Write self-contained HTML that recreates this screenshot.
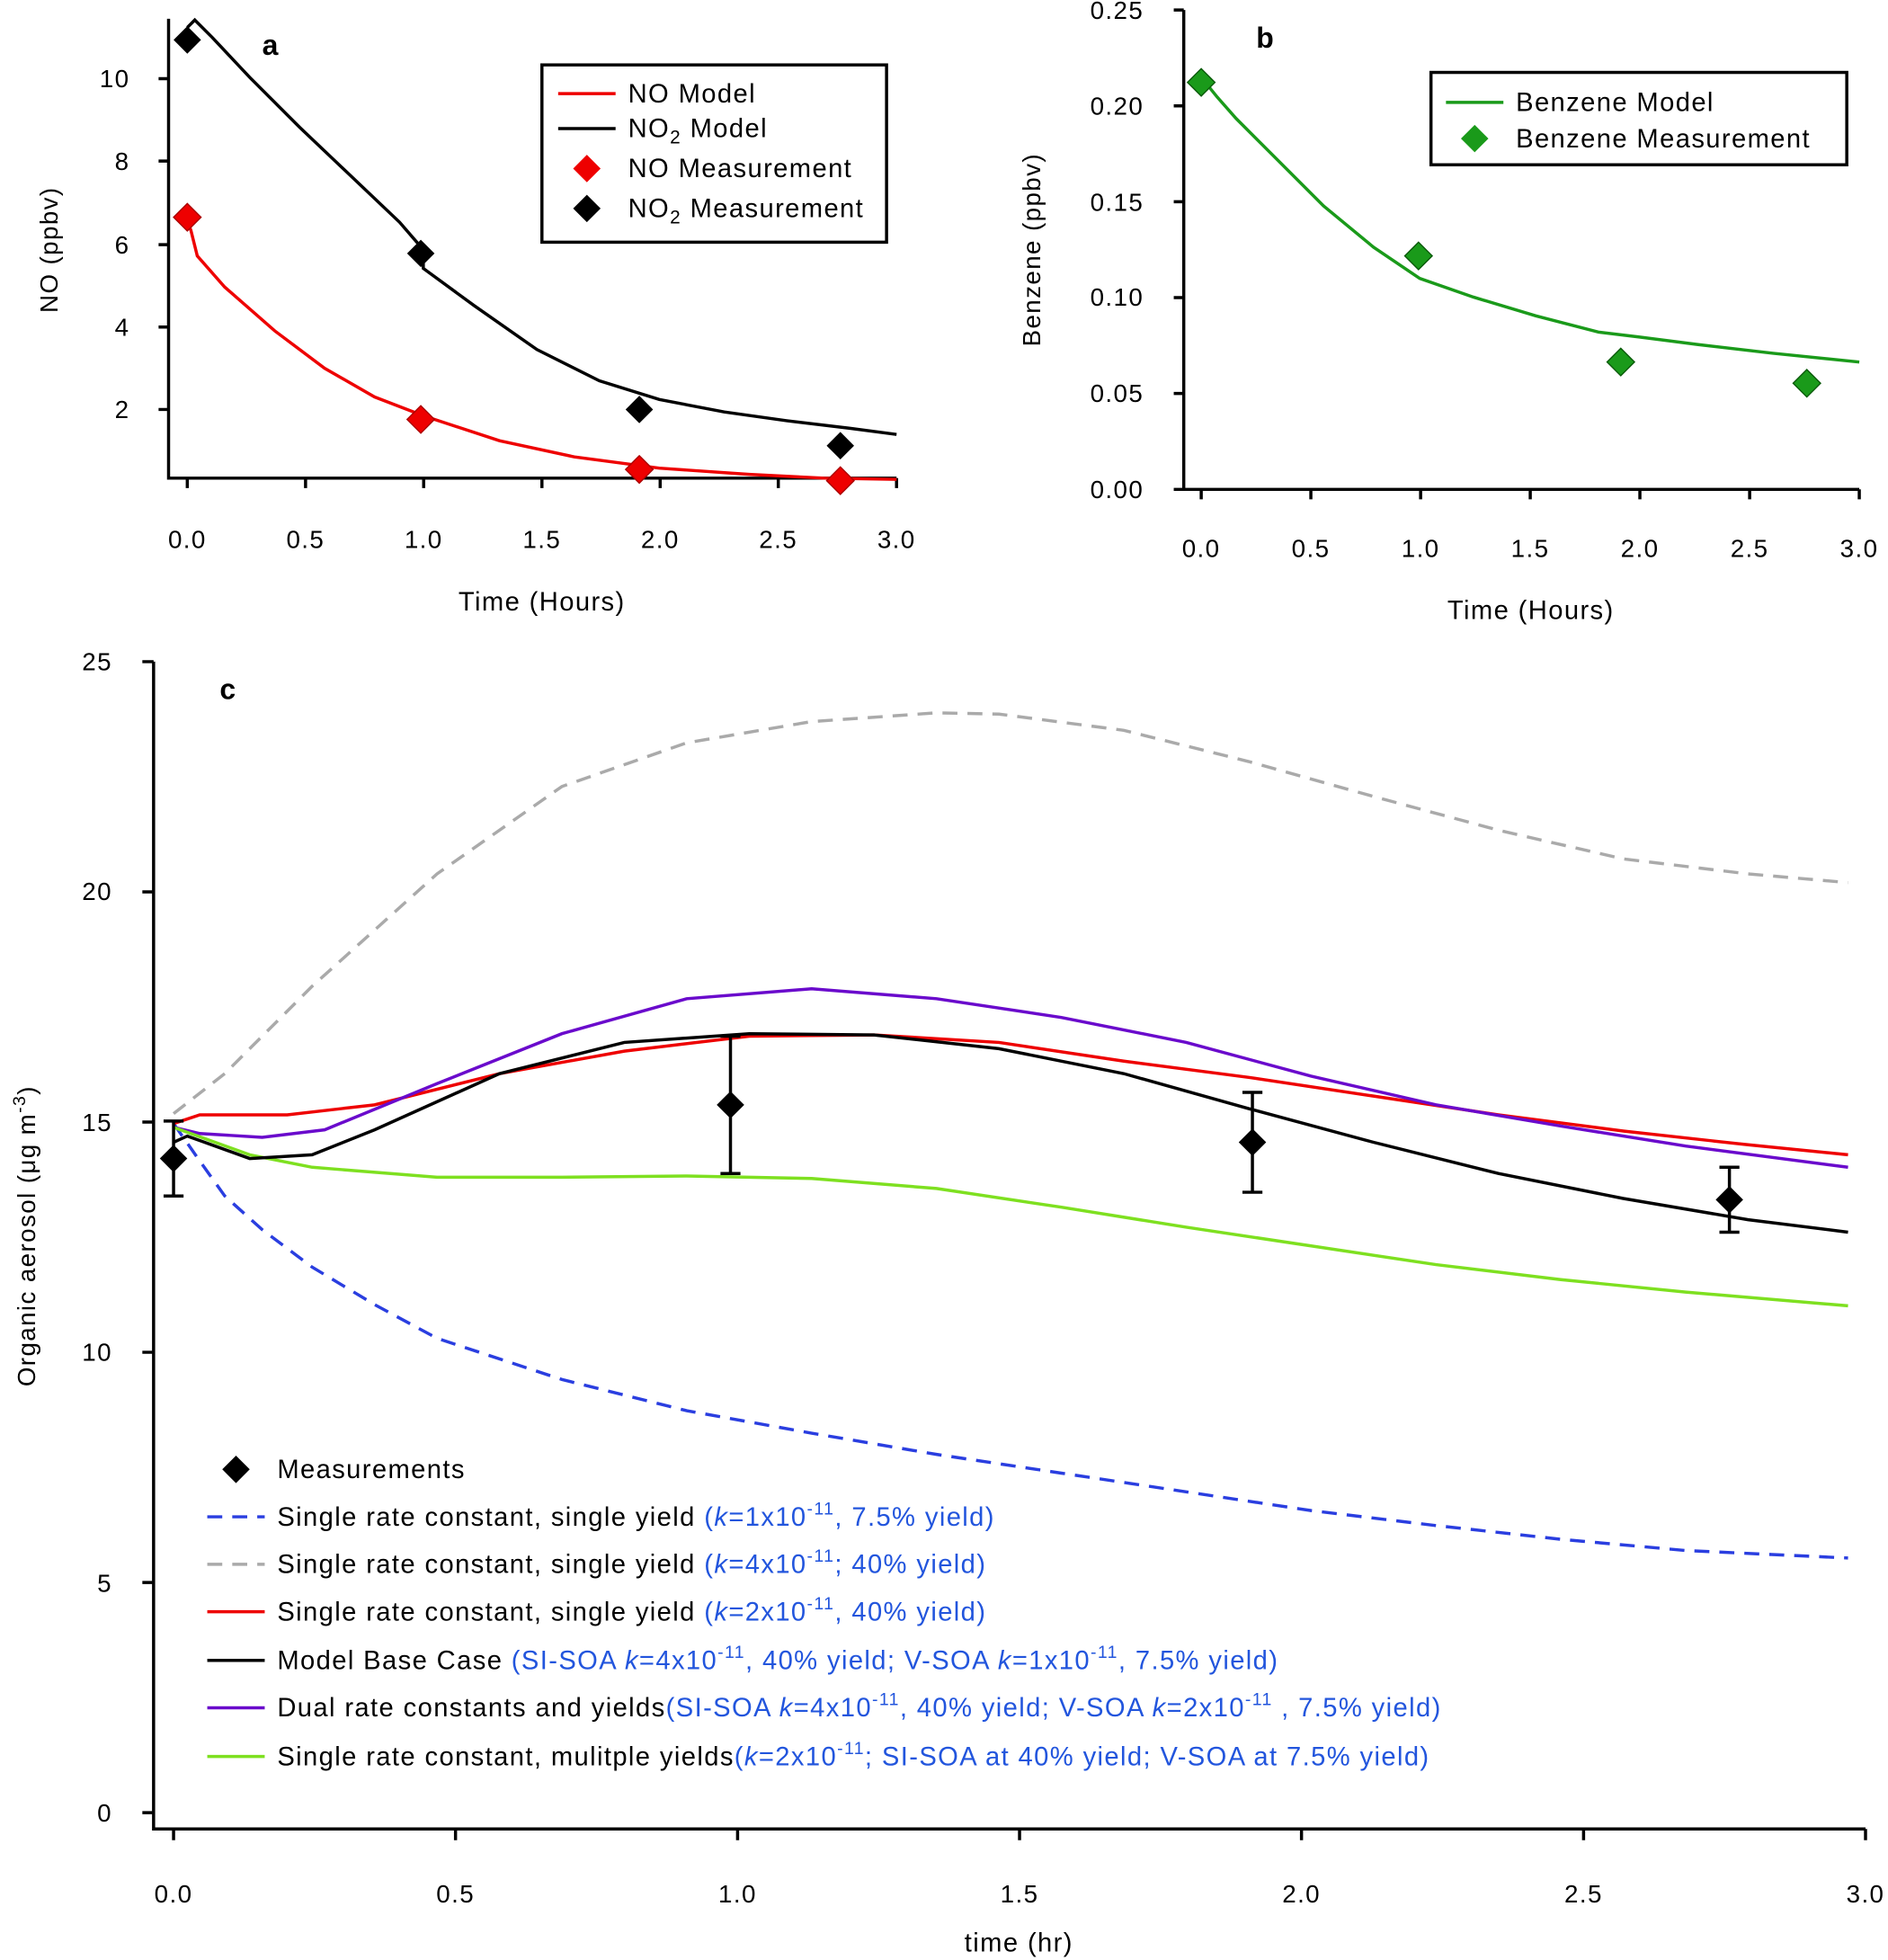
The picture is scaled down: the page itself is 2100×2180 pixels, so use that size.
<!DOCTYPE html>
<html><head><meta charset="utf-8"><style>html,body{margin:0;padding:0;background:#fff}svg{display:block}text{font-family:"Liberation Sans",sans-serif;letter-spacing:1px}</style></head><body>
<svg width="2100" height="2180" viewBox="0 0 1512 1570" preserveAspectRatio="none" xmlns="http://www.w3.org/2000/svg">
<defs><path id="dm" d="M0,-11 L11,0 L0,11 L-11,0Z"/></defs>
<!-- Panel a -->
<g stroke="#000" stroke-width="2.5" fill="none">
<path d="M135,15 V383 H718"/>
<path d="M135,63 h-8 M135,129 h-8 M135,196 h-8 M135,262 h-8 M135,328 h-8"/>
<path d="M150,383 v8 M244.7,383 v8 M339.3,383 v8 M434,383 v8 M528.7,383 v8 M623.3,383 v8 M718,383 v8"/>
</g>
<g font-size="20" text-anchor="end"><text x="104" y="70">10</text><text x="104" y="136">8</text><text x="104" y="203">6</text><text x="104" y="269">4</text><text x="104" y="335">2</text></g>
<g font-size="20" text-anchor="middle"><text x="150" y="439">0.0</text><text x="244.7" y="439">0.5</text><text x="339.3" y="439">1.0</text><text x="434" y="439">1.5</text><text x="528.7" y="439">2.0</text><text x="623.3" y="439">2.5</text><text x="718" y="439">3.0</text>
<text x="434" y="489" font-size="21">Time (Hours)</text></g>
<text transform="translate(46,200) rotate(-90)" font-size="20" text-anchor="middle">NO (ppbv)</text>
<text x="210" y="44" font-size="23" font-weight="bold">a</text>
<polyline fill="none" stroke="#000" stroke-width="2.5" points="150,22 156,16 170,30 200,62 240,102 280,140 320,178 339,200 339,215 380,245 430,280 480,305 528,320 580,330 630,337 680,343 718,348"/>
<polyline fill="none" stroke="#e00" stroke-width="2.5" points="150,176 153,185 158,205 180,230 220,265 260,295 300,318 339,333 400,353 460,366 528,375 600,380 660,383 718,384"/>
<g fill="#e00" stroke="#a00"><use href="#dm" x="150" y="174"/><use href="#dm" x="337" y="336"/><use href="#dm" x="512" y="376"/><use href="#dm" x="673" y="385"/></g>
<g fill="#000"><use href="#dm" x="150" y="32"/><use href="#dm" x="337" y="203"/><use href="#dm" x="512" y="328"/><use href="#dm" x="673" y="357"/></g>
<rect x="434" y="52" width="276" height="142" fill="#fff" stroke="#000" stroke-width="2.5"/>
<g stroke-width="2.5"><line x1="447" y1="75" x2="493" y2="75" stroke="#e00"/><line x1="447" y1="103" x2="493" y2="103" stroke="#000"/></g>
<use href="#dm" x="470" y="135" fill="#e00"/><use href="#dm" x="470" y="167" fill="#000"/>
<g font-size="21"><text x="503" y="82">NO Model</text><text x="503" y="110">NO<tspan font-size="15" dy="5">2</tspan><tspan dy="-5"> Model</tspan></text><text x="503" y="142">NO Measurement</text><text x="503" y="174">NO<tspan font-size="15" dy="5">2</tspan><tspan dy="-5"> Measurement</tspan></text></g>
<!-- Panel b -->
<g stroke="#000" stroke-width="2.5" fill="none">
<path d="M948,8 V392 H1489"/>
<path d="M948,8 h-8 M948,84.8 h-8 M948,161.6 h-8 M948,238.4 h-8 M948,315.2 h-8 M948,392 h-8"/>
<path d="M962,392 v8 M1049.8,392 v8 M1137.7,392 v8 M1225.5,392 v8 M1313.3,392 v8 M1401.2,392 v8 M1489,392 v8"/>
</g>
<g font-size="20" text-anchor="end"><text x="916" y="15">0.25</text><text x="916" y="92">0.20</text><text x="916" y="169">0.15</text><text x="916" y="245">0.10</text><text x="916" y="322">0.05</text><text x="916" y="399">0.00</text></g>
<g font-size="20" text-anchor="middle"><text x="962" y="446">0.0</text><text x="1049.8" y="446">0.5</text><text x="1137.7" y="446">1.0</text><text x="1225.5" y="446">1.5</text><text x="1313.3" y="446">2.0</text><text x="1401.2" y="446">2.5</text><text x="1489" y="446">3.0</text>
<text x="1226" y="496" font-size="21">Time (Hours)</text></g>
<text transform="translate(833,200) rotate(-90)" font-size="20" text-anchor="middle">Benzene (ppbv)</text>
<text x="1006" y="38" font-size="23" font-weight="bold">b</text>
<polyline fill="none" stroke="#1a9a1a" stroke-width="2.5" points="962,62 975,78 990,95 1020,125 1060,165 1100,198 1137,223 1180,238 1230,253 1280,266 1313,270 1360,276 1420,283 1489,290"/>
<g fill="#1a9a1a" stroke="#0a5a0a"><use href="#dm" x="962" y="66"/><use href="#dm" x="1136" y="205"/><use href="#dm" x="1298" y="290"/><use href="#dm" x="1447" y="307"/></g>
<rect x="1146" y="58" width="333" height="74" fill="#fff" stroke="#000" stroke-width="2.5"/>
<line x1="1158" y1="82" x2="1204" y2="82" stroke="#1a9a1a" stroke-width="2.5"/>
<use href="#dm" x="1181" y="111" fill="#1a9a1a"/>
<g font-size="21"><text x="1214" y="89">Benzene Model</text><text x="1214" y="118">Benzene Measurement</text></g>
<!-- Panel c -->
<g stroke="#000" stroke-width="2.5" fill="none">
<path d="M123,530 V1465 H1494"/>
<path d="M123,530 h-9 M123,714.4 h-9 M123,898.8 h-9 M123,1083.2 h-9 M123,1267.6 h-9 M123,1452 h-9"/>
<path d="M139,1465 v9 M364.8,1465 v9 M590.7,1465 v9 M816.5,1465 v9 M1042.3,1465 v9 M1268.2,1465 v9 M1494,1465 v9"/>
</g>
<g font-size="20" text-anchor="end"><text x="90" y="537">25</text><text x="90" y="721">20</text><text x="90" y="906">15</text><text x="90" y="1090">10</text><text x="90" y="1275">5</text><text x="90" y="1459">0</text></g>
<g font-size="20" text-anchor="middle"><text x="139" y="1524">0.0</text><text x="364.8" y="1524">0.5</text><text x="590.7" y="1524">1.0</text><text x="816.5" y="1524">1.5</text><text x="1042.3" y="1524">2.0</text><text x="1268.2" y="1524">2.5</text><text x="1494" y="1524">3.0</text>
<text x="816" y="1563" font-size="21">time (hr)</text></g>
<text transform="translate(28,990) rotate(-90)" font-size="20" text-anchor="middle">Organic aerosol (μg m<tspan font-size="14" dy="-8">-3</tspan><tspan dy="8">)</tspan></text>
<text x="176" y="560" font-size="23" font-weight="bold">c</text>
<g fill="none" stroke-width="2.5">
<polyline stroke="#aaa" stroke-dasharray="12,8" points="139,892 180,860 250,790 350,700 450,630 550,595 650,578 750,571 800,572 900,585 1000,610 1100,638 1200,665 1300,688 1400,700 1480,707"/>
<polyline stroke="#2a3ee0" stroke-dasharray="12,8" points="139,900 160,930 180,958 210,985 250,1015 300,1045 350,1072 450,1105 550,1130 650,1148 750,1165 850,1180 950,1195 1050,1210 1150,1222 1250,1233 1350,1242 1480,1248"/>
<polyline stroke="#e00" points="139,900 160,893 230,893 300,885 400,860 500,842 600,830 700,829 800,835 900,850 1000,863 1100,878 1200,893 1300,906 1400,917 1480,925"/>
<polyline stroke="#6a0acc" points="139,903 160,908 210,911 260,905 350,868 450,828 550,800 650,792 750,800 850,815 950,835 1050,862 1150,885 1250,902 1350,918 1480,935"/>
<polyline stroke="#7ee020" points="139,903 200,925 250,935 350,943 450,943 550,942 650,944 750,952 850,967 950,983 1050,998 1150,1013 1250,1025 1350,1035 1480,1046"/>
<polyline stroke="#000" points="139,915 150,910 200,928 250,925 300,905 400,860 500,835 600,828 700,829 800,840 900,860 1000,888 1100,915 1200,940 1300,960 1400,977 1480,987"/>
</g>
<g stroke="#000" stroke-width="2.5"><path d="M139,898 V958 M131,898 h16 M131,958 h16 M585,830 V940 M577,830 h16 M577,940 h16 M1003,875 V955 M995,875 h16 M995,955 h16 M1385,935 V987 M1377,935 h16 M1377,987 h16"/></g>
<g fill="#000"><use href="#dm" x="139" y="928"/><use href="#dm" x="585" y="885"/><use href="#dm" x="1003" y="915"/><use href="#dm" x="1385" y="961"/></g>
<use href="#dm" x="189" y="1177" fill="#000"/>
<g stroke-width="2.5"><line x1="166" y1="1215" x2="212" y2="1215" stroke="#2a3ee0" stroke-dasharray="12,8"/><line x1="166" y1="1253" x2="212" y2="1253" stroke="#aaa" stroke-dasharray="12,8"/><line x1="166" y1="1291" x2="212" y2="1291" stroke="#e00"/><line x1="166" y1="1330" x2="212" y2="1330" stroke="#000"/><line x1="166" y1="1368" x2="212" y2="1368" stroke="#6a0acc"/><line x1="166" y1="1407" x2="212" y2="1407" stroke="#7ee020"/></g>
<g font-size="21">
<text x="222" y="1184">Measurements</text>
<text x="222" y="1222">Single rate constant, single yield <tspan fill="#2255dd">(<tspan font-style="italic">k</tspan>=1x10<tspan font-size="14" dy="-9">-11</tspan><tspan dy="9">, 7.5% yield)</tspan></tspan></text>
<text x="222" y="1260">Single rate constant, single yield <tspan fill="#2255dd">(<tspan font-style="italic">k</tspan>=4x10<tspan font-size="14" dy="-9">-11</tspan><tspan dy="9">; 40% yield)</tspan></tspan></text>
<text x="222" y="1298">Single rate constant, single yield <tspan fill="#2255dd">(<tspan font-style="italic">k</tspan>=2x10<tspan font-size="14" dy="-9">-11</tspan><tspan dy="9">, 40% yield)</tspan></tspan></text>
<text x="222" y="1337"> Model Base Case <tspan fill="#2255dd">(SI-SOA <tspan font-style="italic">k</tspan>=4x10<tspan font-size="14" dy="-9">-11</tspan><tspan dy="9">, 40% yield; V-SOA </tspan><tspan font-style="italic">k</tspan>=1x10<tspan font-size="14" dy="-9">-11</tspan><tspan dy="9">, 7.5% yield)</tspan></tspan></text>
<text x="222" y="1375">Dual rate constants and yields<tspan fill="#2255dd">(SI-SOA <tspan font-style="italic">k</tspan>=4x10<tspan font-size="14" dy="-9">-11</tspan><tspan dy="9">, 40% yield; V-SOA </tspan><tspan font-style="italic">k</tspan>=2x10<tspan font-size="14" dy="-9">-11</tspan><tspan dy="9"> , 7.5% yield)</tspan></tspan></text>
<text x="222" y="1414">Single rate constant, mulitple yields<tspan fill="#2255dd">(<tspan font-style="italic">k</tspan>=2x10<tspan font-size="14" dy="-9">-11</tspan><tspan dy="9">; SI-SOA at 40% yield; V-SOA at 7.5% yield)</tspan></tspan></text>
</g>
</svg>
</body></html>
